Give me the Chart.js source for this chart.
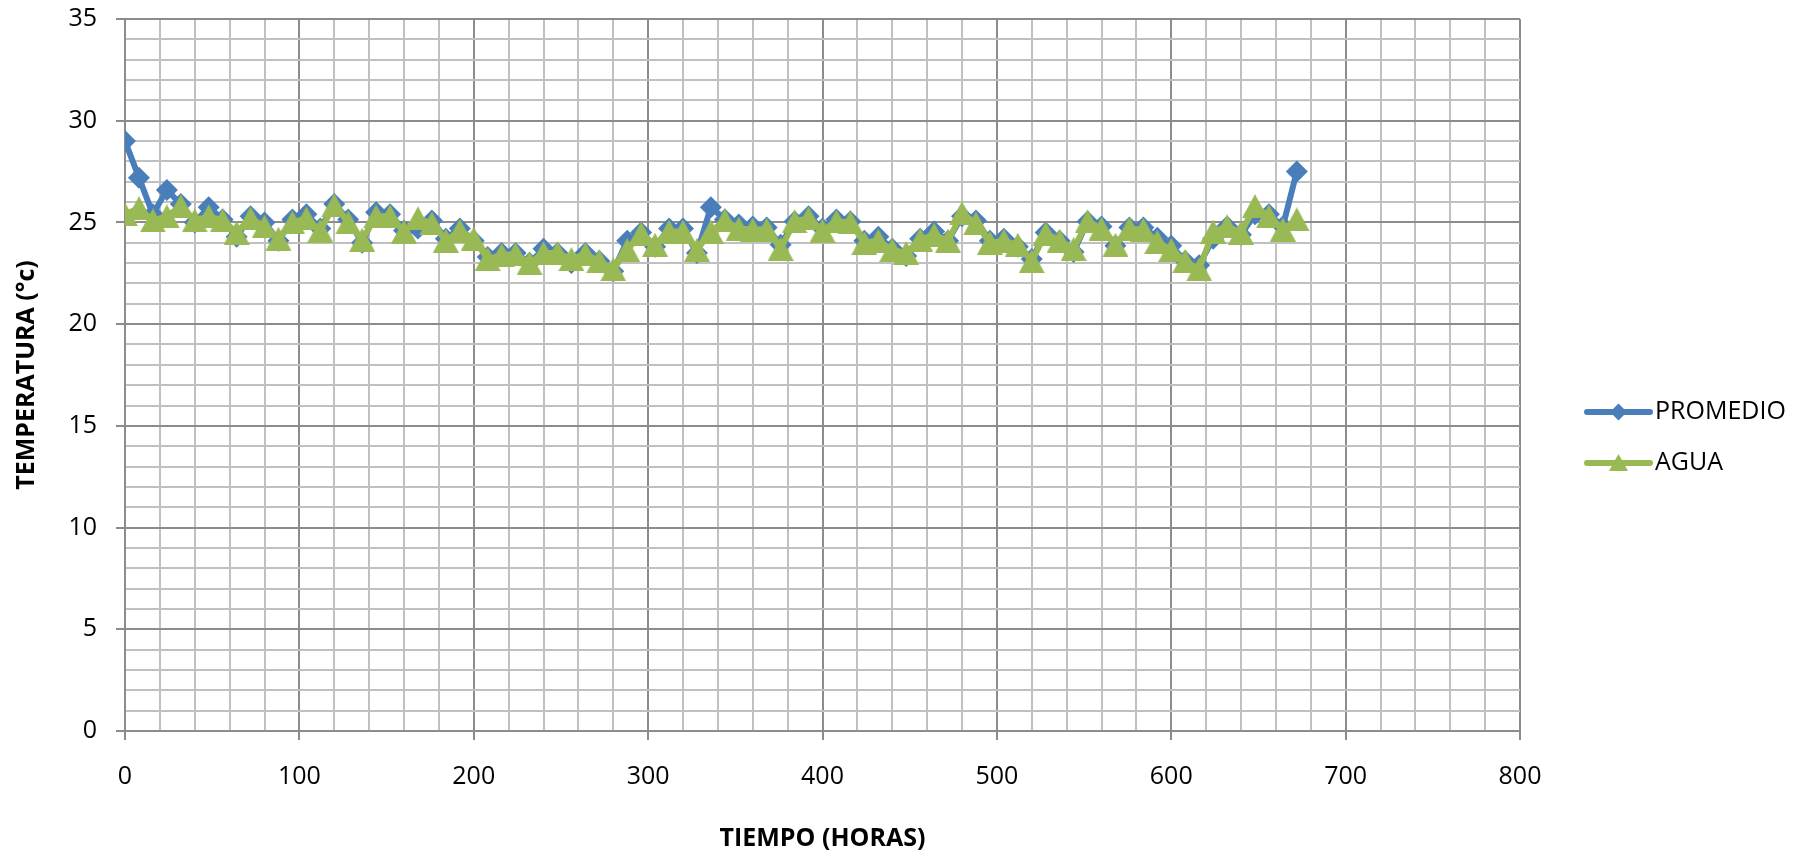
<!DOCTYPE html>
<html>
<head>
<meta charset="utf-8">
<script src="https://cdn.jsdelivr.net/npm/chart.js@4.4.1/dist/chart.umd.min.js"></script>
<style>
  html, body { margin: 0; padding: 0; background: #fff; }
</style>
</head>
<body>
<canvas id="temp-chart" width="1802" height="856"></canvas>
<script>
// hours since start of the test, one reading every 8 h
let horas = [0, 8, 16, 24, 32, 40, 48, 56, 64, 72, 80, 88, 96, 104, 112, 120, 128, 136, 144, 152,
  160, 168, 176, 184, 192, 200, 208, 216, 224, 232, 240, 248, 256, 264, 272, 280, 288, 296, 304, 312,
  320, 328, 336, 344, 352, 360, 368, 376, 384, 392, 400, 408, 416, 424, 432, 440, 448, 456, 464, 472,
  480, 488, 496, 504, 512, 520, 528, 536, 544, 552, 560, 568, 576, 584, 592, 600, 608, 616, 624, 632,
  640, 648, 656, 664, 672];

let promedio = [29.0, 27.2, 25.4, 26.6, 25.9, 25.0, 25.75, 25.15, 24.3, 25.3, 25.0, 24.1, 25.15, 25.4, 24.7, 25.9, 25.15, 24.0, 25.5, 25.4,
  24.6, 24.7, 25.1, 24.2, 24.7, 24.1, 23.3, 23.5, 23.5, 23.0, 23.7, 23.5, 23.0, 23.5, 23.1, 22.6, 24.1, 24.5, 23.8, 24.7,
  24.7, 23.5, 25.75, 25.15, 24.9, 24.8, 24.75, 23.9, 25.05, 25.3, 24.7, 25.15, 25.05, 24.1, 24.3, 23.7, 23.35, 24.2, 24.55, 24.1,
  25.3, 25.1, 24.1, 24.2, 23.8, 23.2, 24.5, 24.1, 23.55, 25.05, 24.8, 23.85, 24.75, 24.75, 24.25, 23.85, 23.1, 22.9, 24.2, 24.8,
  24.4, 25.4, 25.4, 24.8, 27.5];

let agua = [25.4, 25.7, 25.1, 25.3, 25.8, 25.1, 25.3, 25.1, 24.5, 25.2, 24.8, 24.2, 25.0, 25.2, 24.6, 25.85, 25.0, 24.15, 25.3, 25.3,
  24.55, 25.2, 24.95, 24.1, 24.6, 24.2, 23.2, 23.4, 23.45, 23.0, 23.5, 23.5, 23.2, 23.45, 23.1, 22.7, 23.65, 24.45, 23.9, 24.55,
  24.55, 23.65, 24.55, 25.1, 24.7, 24.65, 24.65, 23.7, 25.05, 25.2, 24.6, 25.05, 25.0, 24.0, 24.1, 23.65, 23.5, 24.15, 24.4, 24.1,
  25.45, 24.95, 24.0, 24.1, 23.9, 23.1, 24.45, 24.1, 23.7, 25.05, 24.7, 23.9, 24.7, 24.65, 24.05, 23.65, 23.1, 22.7, 24.55, 24.8,
  24.5, 25.8, 25.3, 24.65, 25.15];

let xTicks = [0, 100, 200, 300, 400, 500, 600, 700, 800];
let yTicks = [0, 5, 10, 15, 20, 25, 30, 35];

const AZUL = '#4A7EBB';
const VERDE = '#98B954';
const MAYOR = '#8c8c8c';
const MENOR = '#c0c0c0';
const FUENTE = "'Open Sans', 'Liberation Sans', sans-serif";

// triangle marker centred on its bounding box
function triangulo(w, h, color) {
  let c = document.createElement('canvas');
  c.width = w; c.height = h;
  let g = c.getContext('2d');
  g.fillStyle = color;
  g.beginPath();
  g.moveTo(w / 2, 0);
  g.lineTo(w, h);
  g.lineTo(0, h);
  g.closePath();
  g.fill();
  return c;
}

let triChart = triangulo(26, 24, VERDE);
let triLeyenda = triangulo(19, 17, VERDE);

let puntos = (ys) => horas.map((h, i) => ({x: h, y: ys[i]}));

function isMajor(val, list) { return list.indexOf(val) !== -1; }

// legend: line with marker in the middle, drawn to the right of the plot
const leyenda = {
  id: 'leyenda',
  afterDraw(chart) {
    const ctx = chart.ctx;
    const x0 = chart.chartArea.right + 67;
    const x1 = x0 + 63;
    const items = [
      {label: 'PROMEDIO', color: AZUL, y: chart.height / 2 - 16},
      {label: 'AGUA', color: VERDE, y: chart.height / 2 + 35}
    ];
    ctx.save();
    items.forEach((it, i) => {
      ctx.strokeStyle = it.color;
      ctx.lineWidth = 6;
      ctx.lineCap = 'round';
      ctx.beginPath();
      ctx.moveTo(x0, it.y);
      ctx.lineTo(x1, it.y);
      ctx.stroke();
      let cx = (x0 + x1) / 2;
      if (i === 0) {
        ctx.fillStyle = it.color;
        ctx.beginPath();
        ctx.moveTo(cx, it.y - 8.5);
        ctx.lineTo(cx + 8.5, it.y);
        ctx.lineTo(cx, it.y + 8.5);
        ctx.lineTo(cx - 8.5, it.y);
        ctx.closePath();
        ctx.fill();
      } else {
        ctx.drawImage(triLeyenda, cx - 9.5, it.y - 9);
      }
      ctx.fillStyle = '#000';
      ctx.font = '25px ' + FUENTE;
      ctx.textBaseline = 'middle';
      ctx.textAlign = 'left';
      ctx.fillText(it.label, x1 + 5, it.y);
    });
    ctx.restore();
  }
};

let ctx = document.getElementById('temp-chart').getContext('2d');
let chart = new Chart(ctx, {
  type: 'line',
  data: {
    datasets: [{
      label: 'PROMEDIO',
      data: puntos(promedio),
      borderColor: AZUL,
      backgroundColor: AZUL,
      borderWidth: 6,
      pointStyle: 'rectRot',
      pointRadius: 11,
      pointBorderWidth: 0,
      tension: 0,
      order: 2
    }, {
      label: 'AGUA',
      data: puntos(agua),
      borderColor: VERDE,
      backgroundColor: VERDE,
      borderWidth: 6,
      pointStyle: triChart,
      pointRadius: 13,
      tension: 0,
      order: 1
    }]
  },
  options: {
    responsive: false,
    animation: false,
    layout: {padding: {top: 18, right: 282, bottom: 0, left: 0}},
    plugins: {legend: {display: false}, tooltip: {enabled: false}},
    scales: {
      x: {
        type: 'linear',
        min: 0, max: 800,
        afterFit: (s) => { s.height = 125; s.paddingLeft = 0; s.paddingRight = 0; },
        ticks: {
          stepSize: 20,
          autoSkip: false,
          maxRotation: 0,
          padding: 22,
          color: '#000',
          font: {family: FUENTE, size: 25},
          callback: (v) => isMajor(v, xTicks) ? v : ''
        },
        grid: {
          lineWidth: 2,
          tickLength: 9,
          color: (c) => isMajor(c.tick.value, xTicks) ? MAYOR : MENOR,
          tickColor: (c) => isMajor(c.tick.value, xTicks) ? MAYOR : 'rgba(0,0,0,0)'
        },
        border: {color: MAYOR, width: 2},
        title: {
          display: true,
          text: 'TIEMPO (HORAS)',
          color: '#000',
          font: {family: FUENTE, size: 25, weight: 'bold'},
          padding: {top: 0, bottom: 2}
        }
      },
      y: {
        min: 0, max: 35,
        afterFit: (s) => { s.width = 125; s.paddingTop = 0; s.paddingBottom = 0; },
        ticks: {
          stepSize: 1,
          autoSkip: false,
          padding: 19,
          color: '#000',
          font: {family: FUENTE, size: 25},
          callback: (v) => isMajor(v, yTicks) ? v : ''
        },
        grid: {
          lineWidth: 2,
          tickLength: 9,
          color: (c) => isMajor(c.tick.value, yTicks) ? MAYOR : MENOR,
          tickColor: (c) => isMajor(c.tick.value, yTicks) ? MAYOR : 'rgba(0,0,0,0)'
        },
        border: {color: MAYOR, width: 2},
        title: {
          display: true,
          text: 'TEMPERATURA (°c)',
          color: '#000',
          font: {family: FUENTE, size: 25, weight: 'bold'},
          padding: {top: 12, bottom: 0}
        }
      }
    }
  },
  plugins: [leyenda]
});
</script>
</body>
</html>
